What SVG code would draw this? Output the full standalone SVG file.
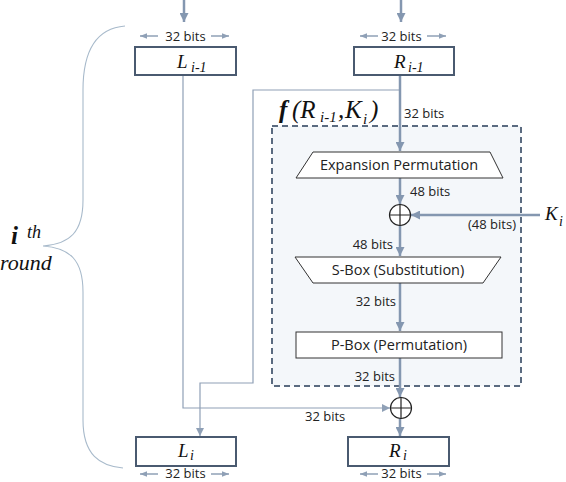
<svg xmlns="http://www.w3.org/2000/svg" width="566" height="482" viewBox="0 0 566 482">
<style>
.lbl{font-family:"Open Sans","Liberation Sans",sans-serif;font-size:13px;fill:#222}
.btx{font-family:"Open Sans","Liberation Sans",sans-serif;font-size:14.5px;fill:#222}
.math{font-family:"Liberation Serif","DejaVu Serif",serif;font-style:italic;fill:#111}
.box{fill:#fff;stroke:#4a5a70;stroke-width:2}
.thick{fill:none;stroke:#8497b0;stroke-width:2.5}
.thin{fill:none;stroke:#8fa0b6;stroke-width:1.2}
.dim{fill:none;stroke:#8fa0b6;stroke-width:1.5}
.xor{fill:#fff;stroke:#222;stroke-width:1.2}
.shape{fill:#fff;stroke:#333;stroke-width:1}
</style>
<defs>
<marker id="ah" viewBox="0 0 10 10" refX="10" refY="5" markerWidth="9" markerHeight="9" markerUnits="userSpaceOnUse" orient="auto"><path d="M0,0 L10,5 L0,10 z" fill="#8497b0"/></marker>
<marker id="ahs" viewBox="0 0 10 10" refX="10" refY="5" markerWidth="8" markerHeight="8" markerUnits="userSpaceOnUse" orient="auto"><path d="M0,0 L10,5 L0,10 z" fill="#8fa0b6"/></marker>
<marker id="ahd" viewBox="0 0 10 10" refX="10" refY="5" markerWidth="7" markerHeight="7" markerUnits="userSpaceOnUse" orient="auto"><path d="M0,1 L10,5 L0,9 z" fill="#8fa0b6"/></marker>
</defs>

<!-- brace -->
<g id="brace">
<path d="M125,26 C100,28 83,45 83,90 V200 C83,232 70,244 43,246 C70,248 83,260 83,292 V420 C83,455 100,466 123,468" fill="none" stroke="#a8bacb" stroke-width="1.1"/>
<text class="math" x="11" y="244" font-size="25" font-weight="bold">i</text>
<text class="math" x="27" y="238" font-size="18">th</text>
<text class="math" x="0" y="270" font-size="22">round</text>
</g>

<!-- f function box -->
<g id="ffunc">
<rect x="272" y="126" width="249" height="260" fill="#f4f7fa" stroke="#5b6b80" stroke-width="2" stroke-dasharray="6,4"/>
<text class="math" font-size="25" y="118"><tspan x="279" font-weight="bold">f</tspan><tspan x="292">(R</tspan><tspan x="320" y="122" font-size="15">i-1</tspan><tspan x="338" y="118">,</tspan><tspan x="345">K</tspan><tspan x="363" y="124" font-size="15">i</tspan><tspan x="370" y="118">)</tspan></text>
</g>

<!-- connectors -->
<g id="connectors">
<path class="thick" d="M184,0 V22" marker-end="url(#ah)"/>
<path class="thick" d="M401,0 V22" marker-end="url(#ah)"/>
<path class="thin" d="M183,75 V408 H390" marker-end="url(#ahs)"/>
<path class="thin" d="M400,90 H253 V383 H200 V436" marker-end="url(#ahs)"/>
<path class="thick" d="M400,75 V151" marker-end="url(#ah)"/>
<path class="thick" d="M400,178 V204" marker-end="url(#ah)"/>
<path class="thick" d="M540,215 H411" marker-end="url(#ah)"/>
<path class="thick" d="M400,226 V256" marker-end="url(#ah)"/>
<path class="thick" d="M400,283 V331" marker-end="url(#ah)"/>
<path class="thick" d="M400,358 V397" marker-end="url(#ah)"/>
<path class="thick" d="M400,419 V436" marker-end="url(#ah)"/>
<!-- dimension arrows -->
<path class="dim" d="M158,36 H140" marker-end="url(#ahd)"/>
<path class="dim" d="M211,36 H229" marker-end="url(#ahd)"/>
<path class="dim" d="M378,36 H360" marker-end="url(#ahd)"/>
<path class="dim" d="M427,36 H446" marker-end="url(#ahd)"/>
<path class="dim" d="M158,474 H140" marker-end="url(#ahd)"/>
<path class="dim" d="M211,474 H229" marker-end="url(#ahd)"/>
<path class="dim" d="M378,474 H360" marker-end="url(#ahd)"/>
<path class="dim" d="M427,474 H446" marker-end="url(#ahd)"/>
<text class="lbl" x="185.5" y="41" text-anchor="middle">32 bits</text>
<text class="lbl" x="401.5" y="41" text-anchor="middle">32 bits</text>
<text class="lbl" x="404" y="118">32 bits</text>
<text class="lbl" x="410" y="196">48 bits</text>
<text class="lbl" x="468" y="229">(48 bits)</text>
<text class="lbl" x="393" y="249" text-anchor="end">48 bits</text>
<text class="lbl" x="396" y="306" text-anchor="end">32 bits</text>
<text class="lbl" x="395" y="381" text-anchor="end">32 bits</text>
<text class="lbl" x="305" y="421">32 bits</text>
<text class="lbl" x="185.5" y="478" text-anchor="middle">32 bits</text>
<text class="lbl" x="401.5" y="478" text-anchor="middle">32 bits</text>
</g>

<g id="Lprev">
<rect class="box" x="135" y="47" width="101" height="28"/>
<text class="math" font-size="19" y="68"><tspan x="177">L</tspan><tspan x="191" y="72" font-size="14">i-1</tspan></text>
</g>
<g id="Rprev">
<rect class="box" x="354" y="47" width="100" height="28"/>
<text class="math" font-size="19" y="68"><tspan x="394">R</tspan><tspan x="408" y="72" font-size="14">i-1</tspan></text>
</g>
<g id="Li">
<rect class="box" x="136" y="437" width="100" height="29"/>
<text class="math" font-size="19" y="457"><tspan x="178">L</tspan><tspan x="190" y="460" font-size="14">i</tspan></text>
</g>
<g id="Ri">
<rect class="box" x="348" y="437" width="101" height="29"/>
<text class="math" font-size="19" y="457"><tspan x="389">R</tspan><tspan x="403" y="460" font-size="14">i</tspan></text>
</g>
<g id="Ki">
<text class="math" font-size="19" y="220"><tspan x="545">K</tspan><tspan x="559" y="226" font-size="14">i</tspan></text>
</g>

<g id="expansion">
<polygon class="shape" points="313,152 490,152 503,178 296,178"/>
<text class="btx" x="399" y="170" text-anchor="middle">Expansion Permutation</text>
</g>
<g id="xor1">
<circle class="xor" cx="400" cy="215" r="10.5"/>
<path d="M389.5,215 H410.5 M400,204.5 V225.5" stroke="#222" stroke-width="1.2"/>
</g>
<g id="sbox">
<polygon class="shape" points="295,257 501,257 483,283 313,283"/>
<text class="btx" x="398" y="275" text-anchor="middle">S-Box (Substitution)</text>
</g>
<g id="pbox">
<rect class="shape" x="296" y="332" width="206" height="26"/>
<text class="btx" x="399" y="350" text-anchor="middle">P-Box (Permutation)</text>
</g>
<g id="xor2">
<circle class="xor" cx="401" cy="408" r="10.5"/>
<path d="M390.5,408 H411.5 M401,397.5 V418.5" stroke="#222" stroke-width="1.2"/>
</g>
</svg>
